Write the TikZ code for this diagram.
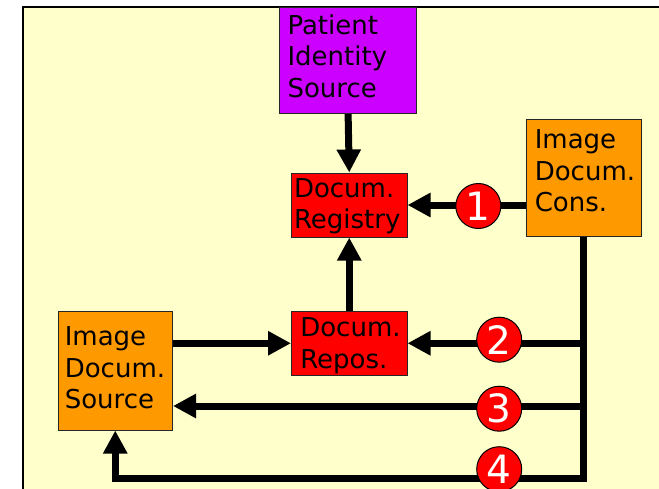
\documentclass[tikz,border=0pt]{standalone}
\usepackage{fontspec}
\setmainfont{DejaVu Sans}
\usetikzlibrary{arrows.meta}
\hyphenpenalty=10000
\exhyphenpenalty=10000
\definecolor{bgyel}{HTML}{FFFFCC}
\definecolor{pisviolet}{HTML}{CC00FF}
\definecolor{regred}{HTML}{FF0000}
\definecolor{srcorange}{HTML}{FF9900}
\begin{document}
\begin{tikzpicture}[x=1pt,y=-1pt,
  box/.style={draw=black!85, line width=1pt, inner ysep=0pt, text height=20pt,
    align=left, font=\fontsize{26}{31.6}\selectfont, anchor=center},
  num/.style={circle, draw=black, line width=1pt, fill=regred, text=white,
    minimum size=45pt, inner sep=0pt, font=\fontsize{39}{39}\selectfont},
  wire/.style={line width=7pt},
  arr/.style={wire, -{Triangle[length=23pt,width=23pt]}}]
\useasboundingbox (0,0) rectangle (659,488);
\fill[white] (0,0) rectangle (659,488);
\filldraw[fill=bgyel, draw=black, line width=2pt] (22.7,7.3) rectangle (700,520);

\node[box, fill=pisviolet, minimum width=137.2pt, minimum height=106pt,
  inner xsep=8pt, text width=121.2pt, text depth=73pt] (pis) at (348.1,60.5)
  {Patient\\Identity\\Source};
\node[box, fill=regred, minimum width=115.5pt, minimum height=64pt,
  inner xsep=2.5pt, text width=110.5pt, text depth=35.4pt] (reg) at (349.25,205)
  {Docum.\\Registry};
\node[box, fill=regred, minimum width=115.5pt, minimum height=63.5pt,
  inner xsep=8.8pt, text width=97.9pt, text depth=33.1pt] (rep) at (349.25,343.25)
  {Docum.\\Repos.};
\node[box, fill=srcorange, minimum width=115pt, minimum height=117.5pt,
  inner xsep=8.8pt, text width=97.4pt, text depth=78.1pt] (cons) at (583.5,177.75)
  {Image\\Docum.\\Cons.};
\node[box, fill=srcorange, minimum width=114.5pt, minimum height=119pt,
  inner xsep=6.8pt, text width=100.9pt, text depth=69.6pt] (src) at (115.25,370.5)
  {Image\\Docum.\\Source};

\coordinate (b3) at (583.5,406);
\coordinate (b4) at (583.5,478);

\draw[arr] (pis.south) -- (reg.north);
\draw[arr] (rep.north) -- (reg.south);
\draw[arr] (src.east |- rep.west) -- (rep.west);
\draw[arr] (cons.west |- reg.east) -- (reg.east);
\draw[arr] (rep.east -| cons.south) -- (rep.east);
\draw[arr] (b3) -- (b3 -| src.east);
\draw[arr] (cons.south) -- (b4) -| (src.south);

\node[num] (n1) at (478.3,206) {1};
\node[num] (n2) at (499.2,339.7) {2};
\node[num] (n3) at (499.2,408.7) {3};
\node[num] (n4) at (499.2,469.2) {4};
\end{tikzpicture}
\end{document}
